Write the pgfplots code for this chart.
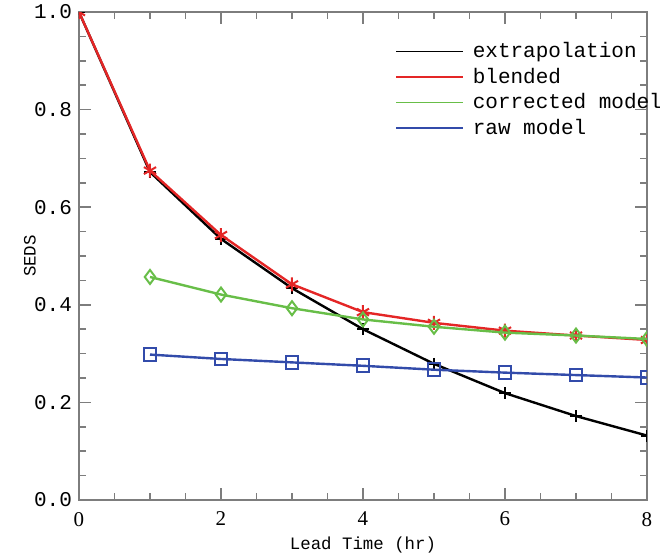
\documentclass[border=0pt]{standalone}
\usepackage{fontspec}
\setmainfont{Liberation Mono}
\newfontfamily\seriff{Liberation Serif}
\usepackage{pgfplots}
\pgfplotsset{compat=1.18}
\definecolor{cred}{RGB}{228,38,38}
\definecolor{cgreen}{RGB}{104,190,72}
\definecolor{cblue}{RGB}{50,75,170}
\definecolor{axgray}{RGB}{125,125,125}
\begin{document}
\begin{tikzpicture}
\useasboundingbox (-39.5pt,-29pt) rectangle (290.5pt,250pt);
\begin{axis}[
  at={(0,0)}, anchor=south west,
  width=284pt, height=244pt, scale only axis,
  xmin=0, xmax=8, ymin=0, ymax=1,
  xtick={0,2,4,6,8}, ytick={0,0.2,0.4,0.6,0.8,1.0},
  minor x tick num=3, minor y tick num=3,
  tick align=inside,
  major tick length=6pt, minor tick length=3.5pt,
  every tick/.style={axgray, line width=0.8pt},
  axis line style={axgray, line width=0.9pt},
  /pgf/number format/assume math mode=true,
  xticklabel style={font=\seriff\fontsize{10.5}{12}\selectfont, yshift=-2.5pt},
  yticklabel style={font=\fontsize{10.5}{12}\selectfont, /pgf/number format/.cd, fixed, fixed zerofill, precision=1},
  xlabel={Lead Time (hr)}, ylabel={SEDS},
  xlabel style={font=\fontsize{8.7}{10}\selectfont, at={(axis description cs:0.5,-0.092)}, anchor=center},
  ylabel style={font=\fontsize{8.7}{10}\selectfont, at={(axis description cs:-0.0863,0.5)}, rotate=0, anchor=center},
  clip mode=individual, clip marker paths=true,
  legend cell align=left,
  legend style={at={(rel axis cs:0.556,0.947)}, anchor=north west, draw=none, fill=none,
    font=\fontsize{10.5}{12.75}\selectfont, row sep=-0.3pt, inner sep=0pt,
    /tikz/every odd column/.append style={column sep=2.5pt}},
  legend image code/.code={\draw[#1, line width=0.8pt] (0pt,0pt) -- (33.5pt,0pt);},
]
\addplot[black, line width=1.2pt, mark=+, mark size=3pt, mark options={line width=1pt}] coordinates {
(0,1.0) (1,0.672) (2,0.535) (3,0.434) (4,0.350) (5,0.279) (6,0.219) (7,0.172) (8,0.132)};
\addlegendentry{extrapolation}
\addplot[cred, line width=1.2pt, mark=asterisk, mark size=3.5pt, mark options={line width=1pt}] coordinates {
(0,1.0) (1,0.675) (2,0.543) (3,0.442) (4,0.385) (5,0.363) (6,0.347) (7,0.337) (8,0.328)};
\addlegendentry{blended}
\addplot[cgreen, line width=1.2pt, mark=diamond, mark size=3.5pt, mark options={line width=1pt}] coordinates {
(1,0.457) (2,0.421) (3,0.393) (4,0.370) (5,0.355) (6,0.343) (7,0.337) (8,0.330)};
\addlegendentry{corrected model}
\addplot[cblue, line width=1.2pt, mark=square, mark size=3.2pt, mark options={line width=1pt}] coordinates {
(1,0.298) (2,0.289) (3,0.282) (4,0.275) (5,0.267) (6,0.261) (7,0.256) (8,0.251)};
\addlegendentry{raw model}
\end{axis}
\end{tikzpicture}
\end{document}
